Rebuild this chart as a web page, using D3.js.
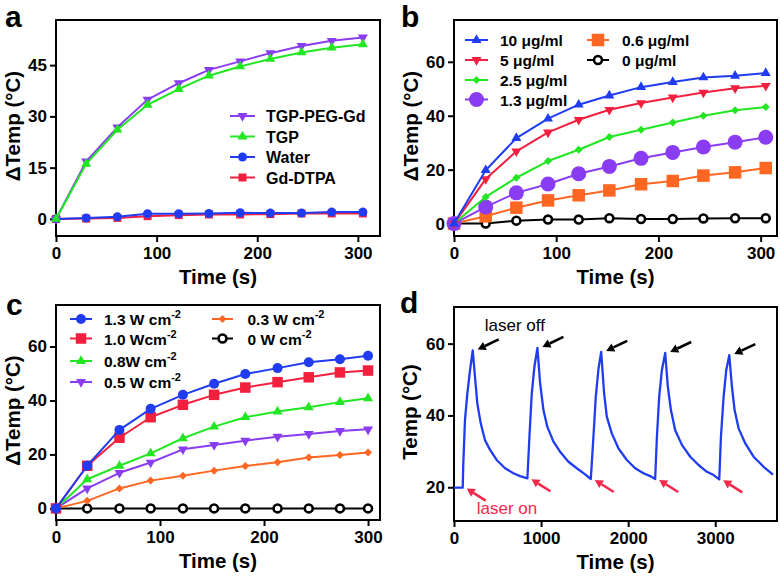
<!DOCTYPE html>
<html><head><meta charset="utf-8">
<script src="https://cdn.jsdelivr.net/npm/d3@7"></script>
<style>
body{margin:0;background:#fff}
svg{display:block}
text{font-family:"Liberation Sans",Arial,sans-serif}
</style>
</head><body>
<svg id="chart" width="780" height="580"></svg>
<script>
// ---------- Panel a data ----------
const timeA = [0,30,61,91,122,152,183,213,244,274,305];
const tgpPegGd = [0,16.8,26.8,34.9,39.7,43.6,46.1,48.5,50.6,52.1,53.1];
const tgp = [0,16.1,26.1,33.4,38.0,41.9,44.6,46.8,48.7,50.1,51.1];
const water = [0,0.3,0.6,1.5,1.5,1.6,1.8,1.7,1.7,2.0,2.0];
const gdDtpa = [0,0.1,0.3,0.8,1.1,1.3,1.3,1.4,1.6,1.6,1.6];
const labelsA = ["TGP-PEG-Gd","TGP","Water","Gd-DTPA"];
const xTicksA = [0,100,200,300];
const yTicksA = [0,15,30,45];

// ---------- Panel b data ----------
const timeB = [0,31,61,92,122,152,183,214,244,275,305];
const b10 = [0,19.8,31.7,38.9,44.1,47.5,50.6,52.5,54.2,54.8,55.8];
const b5 = [0,16.5,26.8,33.8,38.5,42.2,44.7,46.8,48.6,50.2,51.1];
const b2_5 = [0,9.9,17.0,23.2,27.4,32.1,34.8,37.5,40.0,42.0,43.2];
const b1_3 = [0,6.2,11.4,14.7,18.5,21.2,24.2,26.4,28.4,30.2,32.0];
const b0_6 = [0,2.7,5.9,8.6,10.5,12.3,14.6,15.8,17.8,19.0,20.6];
const b0 = [0,0,1.1,1.5,1.5,2.0,1.7,1.7,1.9,2.0,2.0];
const labelsB = ["10 μg/ml","5 μg/ml","2.5 μg/ml","1.3 μg/ml","0.6 μg/ml","0 μg/ml"];
const xTicksB = [0,100,200,300];
const yTicksB = [0,20,40,60];

// ---------- Panel c data ----------
const timeC = [0,30,61,91,122,152,182,213,243,273,300];
const c1_3 = [0,15.8,29.1,36.9,42.1,46.2,49.8,52.0,54.2,55.3,56.6];
const c1_0 = [0,15.8,26.2,33.8,38.4,42.1,44.8,46.8,48.6,50.4,51.1];
const c0_8 = [0,10.8,15.8,20.4,26.0,30.3,33.8,35.9,37.5,39.4,40.8];
const c0_5 = [0,7.4,13.2,17.0,21.9,23.5,25.1,26.6,27.6,28.7,29.3];
const c0_3 = [0,2.8,7.4,10.3,12.1,14.0,15.7,17.1,18.9,19.8,20.7];
const c0 = [0,0,0,0,0,0,0,0,0,0,0];
const labelsC = ["1.3 W cm","1.0 Wcm","0.8W cm","0.5 W cm","0.3 W cm","0 W cm"];
const labelSupC = "-2";
const xTicksC = [0,100,200,300];
const yTicksC = [0,20,40,60];

// ---------- Panel d data ----------
const timeD = [0,100,107,126,153,184,215,241,268,307,356,414,490,586,682,759,843,
  866,893,923,958,989,1027,1072,1142,1218,1314,1410,1506,1571,
  1601,1628,1659,1690,1724,1755,1812,1889,1985,2080,2176,2253,2310,
  2330,2356,2387,2425,2456,2491,2540,2617,2713,2808,2904,2981,3046,
  3065,3096,3126,3161,3192,3222,3268,3345,3440,3555,3663];
const tempD = [19.9,19.9,26.7,38.7,46.1,52.6,58.1,50.7,43.3,37.8,33.1,30.4,27.6,25.3,23.9,23.1,22.5,
  34.0,46.1,53.5,58.8,48.9,41.5,36.8,32.7,29.9,27.1,25.3,23.6,22.3,
  34.0,45.2,53.0,57.7,46.1,39.6,35.0,30.8,27.6,25.3,23.9,23.1,22.3,
  34.0,45.2,52.6,57.4,47.9,41.5,35.9,31.8,28.5,26.2,24.3,23.4,22.2,
  34.0,45.2,52.6,56.8,47.9,41.5,36.4,32.2,28.5,25.7,23.5];
const laserOnTimes = [100,843,1571,2310,3046];
const laserOffTimes = [215,958,1690,2425,3161];
const xTicksD = [0,1000,2000,3000];
const yTicksD = [20,40,60];

// ---------- colours ----------
const BLUE = "#1f3cf2", RED = "#f2203e", GREEN = "#22e622", PURPLE = "#8a3cf2",
      ORANGE = "#ff6622", BLACK = "#000000", PINK = "#f5284a";

const svg = d3.select("#chart");
svg.append("rect").attr("width",780).attr("height",580).attr("fill","#fff");

function marker(g, type, size, color, x, y) {
  const h = size * 0.866;
  if (type === "circle") {
    g.append("circle").attr("cx",x).attr("cy",y).attr("r",size/2).attr("fill",color);
  } else if (type === "ocircle") {
    g.append("circle").attr("cx",x).attr("cy",y).attr("r",size/2-1.3)
      .attr("fill","#fff").attr("stroke",color).attr("stroke-width",2.6);
  } else if (type === "square") {
    g.append("rect").attr("x",x-size/2).attr("y",y-size/2).attr("width",size).attr("height",size).attr("fill",color);
  } else if (type === "up") {
    g.append("path").attr("d",`M${x},${y-h*2/3}L${x+size/2},${y+h/3}L${x-size/2},${y+h/3}Z`).attr("fill",color);
  } else if (type === "down") {
    g.append("path").attr("d",`M${x},${y+h*2/3}L${x+size/2},${y-h/3}L${x-size/2},${y-h/3}Z`).attr("fill",color);
  } else if (type === "diamond") {
    g.append("path").attr("d",`M${x},${y-size/2}L${x+size/2},${y}L${x},${y+size/2}L${x-size/2},${y}Z`).attr("fill",color);
  }
}

function panel(cfg) {
  const g = svg.append("g");
  const x = d3.scaleLinear().domain(cfg.xDomain).range([cfg.left, cfg.right]);
  const y = d3.scaleLinear().domain(cfg.yDomain).range([cfg.bottom, cfg.top]);
  g.append("rect").attr("x",cfg.left).attr("y",cfg.top)
    .attr("width",cfg.right-cfg.left).attr("height",cfg.bottom-cfg.top)
    .attr("fill","none").attr("stroke","#000").attr("stroke-width",2);
  const ax = g.append("g").attr("transform",`translate(0,${cfg.bottom})`)
    .call(d3.axisBottom(x).tickValues(cfg.xTicks).tickFormat(d3.format("d")).tickSize(6).tickPadding(5).tickSizeOuter(0));
  const ay = g.append("g").attr("transform",`translate(${cfg.left},0)`)
    .call(d3.axisLeft(y).tickValues(cfg.yTicks).tickFormat(d3.format("d")).tickSize(6).tickPadding(3).tickSizeOuter(0));
  [ax, ay].forEach(a => {
    a.select(".domain").remove();
    a.selectAll(".tick line").attr("stroke","#000").attr("stroke-width",2);
    a.selectAll(".tick text").attr("fill","#000").style("font-size","17px").style("font-weight","bold")
      .style("font-family",'"Liberation Sans",Arial,sans-serif');
  });
  g.append("text").attr("x",(cfg.left+cfg.right)/2).attr("y",cfg.bottom+48)
    .attr("text-anchor","middle").style("font-size","20.5px").style("font-weight","bold").text("Time (s)");
  g.append("text").attr("transform",`translate(${cfg.yTitleX},${(cfg.top+cfg.bottom)/2-2}) rotate(-90)`)
    .attr("text-anchor","middle").style("font-size","20.5px").style("font-weight","bold").text(cfg.yTitle);
  g.append("text").attr("x",cfg.letterX).attr("y",cfg.letterY)
    .style("font-size","30px").style("font-weight","bold").text(cfg.letter);
  return {g, x, y};
}

function drawSeries(p, xs, ys, s) {
  const line = d3.line().x((d,i)=>p.x(xs[i])).y(d=>p.y(d));
  p.g.append("path").attr("d",line(ys)).attr("fill","none").attr("stroke",s.color)
    .attr("stroke-width",2).attr("stroke-linejoin","round");
  ys.forEach((v,i)=>marker(p.g, s.type, s.size, s.color, p.x(xs[i]), p.y(v)));
}

function legendEntry(g, x1, x2, yy, s, label, fs, tx, sup) {
  g.append("line").attr("x1",x1).attr("x2",x2).attr("y1",yy).attr("y2",yy)
    .attr("stroke",s.color).attr("stroke-width",2);
  marker(g, s.type, s.size, s.color, (x1+x2)/2, yy);
  const t = g.append("text").attr("x",tx).attr("y",yy+6).style("font-size",fs+"px").style("font-weight","bold");
  t.append("tspan").text(label);
  if (sup) t.append("tspan").attr("dy",-7).style("font-size","11px").text(sup);
}

// ---------- Panel a ----------
{
  const p = panel({left:56,right:380,top:20,bottom:236,xDomain:[0,322],yDomain:[-5.0,58.2],
    xTicks:xTicksA,yTicks:yTicksA,yTitle:"ΔTemp (°C)",yTitleX:20,letter:"a",letterX:5,letterY:27});
  const sA = [
    {ys:tgpPegGd,color:PURPLE,type:"down",size:10},
    {ys:tgp,color:GREEN,type:"up",size:10},
    {ys:water,color:BLUE,type:"circle",size:9},
    {ys:gdDtpa,color:RED,type:"square",size:8}
  ];
  drawSeries(p, timeA, gdDtpa, sA[3]);
  drawSeries(p, timeA, water, sA[2]);
  drawSeries(p, timeA, tgpPegGd, sA[0]);
  drawSeries(p, timeA, tgp, sA[1]);
  const rows = [116,136.5,157,177.5];
  sA.forEach((s,i)=>legendEntry(p.g,230,255,rows[i],s,labelsA[i],16,266));
}

// ---------- Panel b ----------
{
  const p = panel({left:454,right:777,top:20,bottom:236,xDomain:[0,316],yDomain:[-4.6,75.5],
    xTicks:xTicksB,yTicks:yTicksB,yTitle:"ΔTemp (°C)",yTitleX:418,letter:"b",letterX:401,letterY:27});
  const sB = [
    {ys:b10,color:BLUE,type:"up",size:10},
    {ys:b5,color:RED,type:"down",size:10},
    {ys:b2_5,color:GREEN,type:"diamond",size:8},
    {ys:b1_3,color:PURPLE,type:"circle",size:15},
    {ys:b0_6,color:ORANGE,type:"square",size:12.5},
    {ys:b0,color:BLACK,type:"ocircle",size:10.5}
  ];
  [5,4,3,2,1,0].forEach(i=>drawSeries(p, timeB, sB[i].ys, sB[i]));
  const rows1 = [40,60,80,99.5];
  for (let i=0;i<4;i++) legendEntry(p.g,465,488,rows1[i],sB[i],labelsB[i],15.5,500);
  const rows2 = [40,60];
  for (let i=4;i<6;i++) legendEntry(p.g,587,609,rows2[i-4],sB[i],labelsB[i],15.5,622);
}

// ---------- Panel c ----------
{
  const p = panel({left:56,right:380,top:305,bottom:520,xDomain:[0,311.5],yDomain:[-4.3,75.4],
    xTicks:xTicksC,yTicks:yTicksC,yTitle:"ΔTemp (°C)",yTitleX:20,letter:"c",letterX:6,letterY:315});
  const sC = [
    {ys:c1_3,color:BLUE,type:"circle",size:10},
    {ys:c1_0,color:RED,type:"square",size:10.5},
    {ys:c0_8,color:GREEN,type:"up",size:10},
    {ys:c0_5,color:PURPLE,type:"down",size:10},
    {ys:c0_3,color:ORANGE,type:"diamond",size:8},
    {ys:c0,color:BLACK,type:"ocircle",size:10.5}
  ];
  [5,4,3,2,1,0].forEach(i=>drawSeries(p, timeC, sC[i].ys, sC[i]));
  const rows1 = [319,338.5,361,382];
  for (let i=0;i<4;i++) legendEntry(p.g,70,92,rows1[i],sC[i],labelsC[i],15.5,104,labelSupC);
  const rows2 = [319,338.5];
  for (let i=4;i<6;i++) legendEntry(p.g,212,233,rows2[i-4],sC[i],labelsC[i],15.5,247.5,labelSupC);
}

// ---------- Panel d ----------
{
  const p = panel({left:454,right:777,top:307,bottom:521,xDomain:[0,3709],yDomain:[10.6,70.2],
    xTicks:xTicksD,yTicks:yTicksD,yTitle:"Temp (°C)",yTitleX:417,letter:"d",letterX:400,letterY:313});
  const line = d3.line().x((d,i)=>p.x(timeD[i])).y(d=>p.y(d));
  p.g.append("path").attr("d",line(tempD)).attr("fill","none").attr("stroke",BLUE)
    .attr("stroke-width",2.3).attr("stroke-linejoin","round");
  function arrow(hx, hy, tx, ty, color) {
    const dx = hx-tx, dy = hy-ty, L = Math.hypot(dx,dy), ux = dx/L, uy = dy/L;
    const al = 8, aw = 4.5;
    const bx = hx-ux*al, by = hy-uy*al;
    p.g.append("line").attr("x1",tx).attr("y1",ty).attr("x2",bx).attr("y2",by)
      .attr("stroke",color).attr("stroke-width",2.6);
    p.g.append("path").attr("d",`M${hx},${hy}L${bx-uy*aw},${by+ux*aw}L${bx+uy*aw},${by-ux*aw}Z`).attr("fill",color);
  }
  laserOffTimes.forEach(t=>{
    const T = tempD[timeD.indexOf(t)];
    const hx = p.x(t)+5, hy = p.y(T)-1;
    arrow(hx, hy, hx+21, hy-10, BLACK);
  });
  laserOnTimes.forEach(t=>{
    const T = tempD[timeD.indexOf(t)];
    const hx = p.x(t)+4, hy = p.y(T)+1;
    arrow(hx, hy, hx+19, hy+12, PINK);
  });
  const t0 = laserOffTimes[0], T0 = tempD[timeD.indexOf(t0)];
  p.g.append("text").attr("x",p.x(t0)+12).attr("y",p.y(T0)-19).style("font-size","17px").text("laser off");
  const t1 = laserOnTimes[0], T1 = tempD[timeD.indexOf(t1)];
  p.g.append("text").attr("x",p.x(t1)+14).attr("y",p.y(T1)+26).attr("fill",PINK).style("font-size","17px").text("laser on");
}
</script>
</body></html>
